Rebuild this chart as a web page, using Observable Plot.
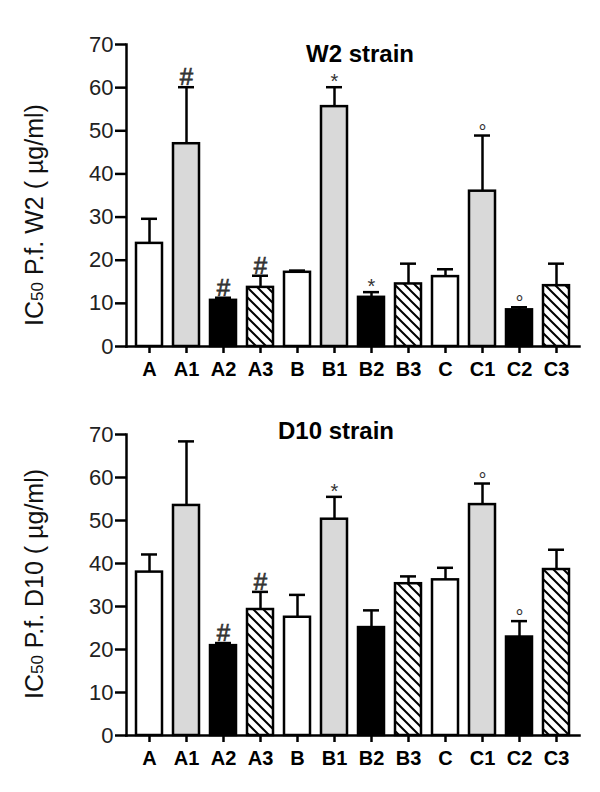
<!DOCTYPE html>
<html>
<head>
<meta charset="utf-8">
<script src="https://cdn.jsdelivr.net/npm/d3@7"></script>
<script src="https://cdn.jsdelivr.net/npm/@observablehq/plot@0.6"></script>
<style>
  html, body { margin: 0; padding: 0; background: white; }
  #page { width: 600px; height: 792px; overflow: hidden; }
  svg { display: block; }
</style>
</head>
<body>
<div id="page"></div>
<script>
// ---- data ----
const categories = ["A", "A1", "A2", "A3", "B", "B1", "B2", "B3", "C", "C1", "C2", "C3"];

const w2Title = "W2 strain";
const w2Mean = [23.9, 47.0, 10.7, 13.7, 17.2, 55.6, 11.4, 14.5, 16.2, 36.0, 8.5, 14.1];
const w2Sem  = [5.7, 13.1, 0.6, 2.7, 0.4, 4.5, 1.2, 4.7, 1.7, 12.9, 0.6, 5.1];
const w2Sig  = ["", "#", "#", "#", "", "*", "*", "", "", "°", "°", ""];

const d10Title = "D10 strain";
const d10Mean = [38.0, 53.5, 20.9, 29.3, 27.5, 50.3, 25.1, 35.3, 36.2, 53.7, 22.9, 38.6];
const d10Sem  = [4.1, 14.9, 0.6, 4.1, 5.2, 5.2, 4.0, 1.7, 2.8, 4.9, 3.7, 4.6];
const d10Sig  = ["", "", "#", "#", "", "*", "", "", "", "°", "°", ""];

const yTicks = [0, 10, 20, 30, 40, 50, 60, 70];
const groups = ["0", "1", "2", "3"];

const FONT = "'Liberation Sans', Arial, Helvetica, sans-serif";

function chart({mean, sem, sig, title, strain, id, marginTop, marginBottom, titleDx, titleDy, labelCy}) {
  const data = categories.map((c, i) => ({
    cat: c,
    group: c.length > 1 ? c.slice(1) : "0",
    mean: mean[i],
    upper: mean[i] + sem[i],
    sig: sig[i]
  }));
  const sigText = (sym, fontSize, dy, fontWeight) =>
    Plot.text(data.filter(d => d.sig === sym), {
      x: "cat", y: "upper", text: "sig", lineAnchor: "bottom",
      fontSize, dy, fontWeight, fill: "#333"
    });
  const svg = Plot.plot({
    width: 600,
    height: 396,
    marginLeft: 126,
    marginRight: 21,
    marginTop,
    marginBottom,
    style: {fontFamily: FONT, background: "white", color: "black"},
    x: {domain: categories, paddingInner: 0.3, paddingOuter: 0.15, label: null},
    y: {domain: [0, 70], label: null},
    color: {type: "ordinal", domain: groups, range: ["white", "#d9d9d9", "black", `url(#${id})`]},
    marks: [
      Plot.ruleX(data, {x: "cat", y1: "mean", y2: "upper", stroke: "black", strokeWidth: 2.5}),
      Plot.tickY(data, {x: "cat", y: "upper", stroke: "black", strokeWidth: 2.5, insetLeft: 5, insetRight: 5}),
      Plot.barY(data, {x: "cat", y: "mean", fill: "group", stroke: "black", strokeWidth: 2.5}),
      sigText("#", 24, -2, "normal"),
      sigText("*", 20, 1, "normal"),
      sigText("°", 20, 3, "normal"),
      Plot.axisY({ticks: yTicks, tickSize: 11, tickPadding: 2, fontSize: 22, strokeWidth: 2.5, label: null, fill: "#222"}),
      Plot.axisX({tickSize: 7, tickPadding: 8, fontSize: 20, fontWeight: "bold", strokeWidth: 2.5, label: null}),
      Plot.frame({anchor: "left", strokeWidth: 2.5}),
      Plot.frame({anchor: "bottom", strokeWidth: 2.5}),
      Plot.text([title], {frameAnchor: "top", dx: titleDx, dy: titleDy, fontSize: 24, fontWeight: "bold", lineAnchor: "middle"})
    ]
  });
  const s = d3.select(svg);
  // thicker "#" glyphs, like the reference
  s.selectAll("text").filter(function() { return this.textContent === "#"; })
    .attr("stroke", "#333").attr("stroke-width", 0.7);
  // hatch pattern
  const defs = s.insert("defs", ":first-child");
  const pat = defs.append("pattern")
    .attr("id", id)
    .attr("patternUnits", "userSpaceOnUse")
    .attr("width", 10).attr("height", 10);
  pat.append("rect").attr("width", 10).attr("height", 10).attr("fill", "white");
  pat.append("path")
    .attr("d", "M0,0L10,10M-2,8L2,12M8,-2L12,2")
    .attr("stroke", "black").attr("stroke-width", 2);
  // y-axis label with small "50"
  const t = s.append("text")
    .attr("transform", `translate(43,${labelCy}) rotate(-90)`)
    .attr("text-anchor", "middle")
    .attr("font-family", FONT)
    .attr("font-size", 25)
    .attr("fill", "#111");
  t.append("tspan").text("IC");
  t.append("tspan").attr("font-size", 17).text("50");
  t.append("tspan").text(` P.f. ${strain} ( µg/ml)`);
  return svg;
}

const page = document.getElementById("page");
page.append(chart({
  mean: w2Mean, sem: w2Sem, sig: w2Sig, title: w2Title, strain: "W2", id: "hatchW2",
  marginTop: 44, marginBottom: 50, titleDx: 7, titleDy: 10, labelCy: 215
}));
page.append(chart({
  mean: d10Mean, sem: d10Sem, sig: d10Sig, title: d10Title, strain: "D10", id: "hatchD10",
  marginTop: 38, marginBottom: 57, titleDx: -17, titleDy: -3, labelCy: 188
}));
</script>
</body>
</html>
